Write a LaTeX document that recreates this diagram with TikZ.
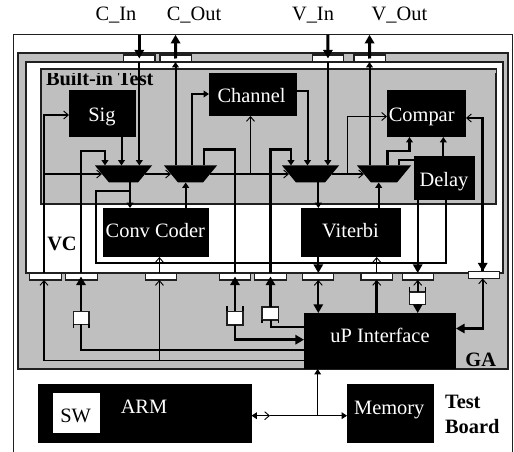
\documentclass[tikz,border=0pt]{standalone}
\usepackage{fontspec}
\setmainfont{Liberation Serif}
\usetikzlibrary{arrows.meta,calc}
\definecolor{panelgrey}{HTML}{BFBFBF}
\definecolor{edgeink}{HTML}{202020}
\tikzset{
  frame/.style={draw=edgeink,line width=.8pt,inner sep=0,outer sep=0},
  blackbox/.style={fill=black,draw=none,inner sep=0,outer sep=0},
  whitebox/.style={fill=white,draw=edgeink,line width=.8pt,inner sep=0,outer sep=0},
  lbl/.style={inner sep=0,outer sep=0,text height=10pt,text depth=0pt,font=\fontsize{15.3}{17}\selectfont},
  lblw/.style={lbl,text=white},
  lblb/.style={lbl,font=\fontsize{15.3}{17}\selectfont\bfseries},
  hw/.style={line width=2.2pt,black},
  mw/.style={line width=1.5pt,black},
  tw/.style={line width=.8pt,black},
  ft/.tip={Triangle[length=6.5pt,width=7pt]},
  fs/.tip={Triangle[length=4pt,width=5pt]},
  ot/.tip={Straight Barb[length=3.5pt,width=6pt,line width=.7pt]},
}
% name, x0, y0, x1, y1, style
\newcommand{\blk}[6]{\node[#6,minimum width={(#4-(#2))*0.75pt},minimum height={(#5-(#3))*0.75pt}] (#1) at ({(#2+#4)/2},{(#3+#5)/2}) {};}
\newcommand{\muxshape}[1]{\fill[black] (#1.north west) -- (#1.north east) -- ($(#1.south east)+(-14,0)$) -- ($(#1.south west)+(14,0)$) -- cycle;}
\newcommand{\padbox}[3]{\blk{#1}{#2-15.7}{#3}{#2+15.7}{#3+7}{whitebox}}
\begin{document}
\begin{tikzpicture}[x=.75pt,y=-.75pt]
\useasboundingbox (0,0) rectangle (514,452);
\fill[white] (0,0) rectangle (514,452);
% panels
\blk{board}{14}{35}{512}{452}{}
\draw[edgeink,line width=.9pt] (board.south west) -- (board.north west) -- (board.north east) -- (board.south east);
\blk{ga}{18}{53}{508}{369}{frame,fill=panelgrey}
\blk{vc}{26}{62}{503}{273}{frame,fill=white}
\blk{bit}{41}{69}{496}{204}{frame,fill=panelgrey}
\node[lblb,anchor=west] (bittext) at (46,79) {Built-in Test};
\fill[panelgrey] ($(bit.north west)+(1,1)$) rectangle (bit.north east |- 0,73.5);
% blocks
\blk{sig}{69}{90}{136}{137}{blackbox}
\blk{channel}{209}{73.5}{297}{116}{blackbox}
\blk{compar}{387}{90}{466}{137}{blackbox}
\blk{delay}{414}{156}{475}{200}{blackbox}
\blk{conv}{103}{208}{209}{257}{blackbox}
\blk{viterbi}{301}{208}{401}{257}{blackbox}
\blk{up}{304}{313}{456}{369}{blackbox}
\blk{arm}{38}{384}{251.5}{443}{blackbox}
\blk{sw}{52.5}{393}{100}{433}{fill=white,inner sep=0,outer sep=0}
\blk{mem}{347}{384}{434}{443}{blackbox}
% muxes
\blk{m1}{95}{165.5}{152}{182.5}{inner sep=0,outer sep=0}
\blk{m2}{164}{165.5}{217}{182.5}{inner sep=0,outer sep=0}
\blk{m3}{282}{165.5}{339}{182.5}{inner sep=0,outer sep=0}
\blk{m4}{357}{165.5}{411}{182.5}{inner sep=0,outer sep=0}
\muxshape{m1}\muxshape{m2}\muxshape{m3}\muxshape{m4}
% pads
\padbox{pci}{139.3}{55}
\padbox{pco}{175.7}{55}
\padbox{pvi}{328}{55}
\padbox{pvo}{369.7}{55}
\padbox{pa}{45.5}{273}
\padbox{pb}{81.5}{273}
\padbox{pc}{161.2}{273}
\padbox{pd}{235.2}{273}
\padbox{pe}{270.5}{273}
\padbox{pf}{318.2}{273}
\padbox{pg}{376.7}{273}
\padbox{ph}{418}{273}
\padbox{pi}{484.2}{271.5}
% small boxes
\blk{ba}{73.5}{311.5}{89}{324.5}{whitebox}
\blk{bb}{227}{311.5}{243}{325}{whitebox}
\blk{bc}{262}{307}{278.5}{320}{whitebox}
\blk{bd}{409.5}{292}{425.5}{304.5}{whitebox}
\draw[tw] (ba.south west) -- +(0,3.5) (ba.south east) -- +(0,3.5);
\draw[tw] (bb.north west) -- +(0,-5) (bb.north east) -- +(0,-5);
\draw[tw] (bc.south west) -- +(0,3.5) (bc.south east) -- +(0,3.5);
\draw[tw] (bd.north west) -- +(0,-5) (bd.north east) -- +(0,-5);
% wire x positions and bend levels
\coordinate (xCi) at (139.3,0);
\coordinate (xCo) at (175.5,0);
\coordinate (xCh) at (192,0);
\coordinate (xSg) at (121.5,0);
\coordinate (xT) at (44,0);
\coordinate (xB) at (81,0);
\coordinate (xB2) at (105,0);
\coordinate (xCh2) at (250.5,0);
\coordinate (xD2) at (204,0);
\coordinate (xD) at (235,0);
\coordinate (xE) at (270.5,0);
\coordinate (xE2) at (291,0);
\coordinate (xCh3) at (307.5,0);
\coordinate (xVi) at (327.8,0);
\coordinate (xVo) at (369.5,0);
\coordinate (xCp) at (347.7,0);
\coordinate (xM4a) at (387.3,0);
\coordinate (xM4b) at (409.5,0);
\coordinate (xM4c) at (399,0);
\coordinate (xDc) at (443.3,0);
\coordinate (xH) at (417.7,0);
\coordinate (xDd) at (445.7,0);
\coordinate (xI) at (482.7,0);
\coordinate (xLp) at (95.7,0);
\coordinate (xM1) at (130,0);
\coordinate (xM2) at (185.7,0);
\coordinate (xM3) at (318.3,0);
\coordinate (xVt) at (378.7,0);
\coordinate (xPg) at (376.7,0);
\coordinate (xC) at (159.4,0);
\coordinate (xAr) at (317.7,0);
\coordinate (xOt) at (270,0);
\coordinate (y151) at (0,151);
\coordinate (y149) at (0,149.5);
\coordinate (y160) at (0,160.5);
\coordinate (y115) at (0,115);
\coordinate (y116) at (0,116.5);
\coordinate (y118) at (0,118);
\coordinate (y94) at (0,94);
\coordinate (y91) at (0,91.5);
\coordinate (y262) at (0,262.7);
\coordinate (y191) at (0,191);
\coordinate (y326) at (0,326.7);
\coordinate (y339) at (0,339.7);
\coordinate (y350) at (0,350);
\coordinate (y361) at (0,360.7);
\coordinate (y328) at (0,328.5);
\coordinate (y416) at (0,415.7);
% top pins
\draw[hw,-ft] (xCi |- board.north) -- (pci.center);
\draw[hw,-ft] (pco.center) -- (xCo |- board.north);
\draw[hw,-ft] (xVi |- board.north) -- (pvi.center);
\draw[hw,-ft] (pvo.center) -- (xVo |- board.north);
\draw[mw,-fs] (xCi |- pci.south) -- (xCi |- m1.north);
\draw[mw,-fs] (xVi |- pvi.south) -- (xVi |- m3.north);
\draw[mw,-fs] (xCo |- m2.north) -- (xCo |- pco.south);
\draw[mw,-fs] (xVo |- m4.north) -- (xVo |- pvo.south);
% test lines
\draw[tw,-ot] (xT |- pa.north) |- (y115 -| sig.west);
\draw[tw,-ot] (xT |- m1.west) -- ($(m1.west)+(7,0)$);
\draw[tw,-ot] ($(m1.east)+(-7,0)$) -- ($(m2.west)+(7,0)$);
\draw[tw,-ot] ($(m2.east)+(-7,0)$) -- ($(m3.west)+(7,0)$);
\draw[tw,-ot] ($(m3.east)+(-7,0)$) -- ($(m4.west)+(7,0)$);
\draw[tw,-ot] (xCh2 |- m2.east) -- (xCh2 |- channel.south);
\draw[tw,-ot] (xCp |- m3.east) |- (y116 -| compar.west);
% into and out of muxes
\draw[mw,-fs] (xSg |- sig.south) -- (xSg |- m1.north);
\draw[hw,-fs] (xB |- pb.north) |- (y151 -| xB2) -- (xB2 |- m1.north);
\draw[hw,-fs] (xCh |- m2.north) |- (y94 -| channel.west);
\draw[hw] (xD |- pd.north) |- (y149 -| xD2) -- (xD2 |- m2.north);
\draw[hw,-fs] (xE |- pe.north) |- (y149 -| xE2) -- (xE2 |- m3.north);
\draw[mw,-fs] (y91 -| channel.east) -| (xCh3 |- m3.north);
\draw[hw,-fs] (xM4a |- m4.north) |- (y151 -| xM4b) -- (xM4b |- compar.south);
\draw[mw] (xM4c |- m4.north) |- (y160 -| delay.west);
\draw[mw,-fs] (xDc |- delay.north) -- (xDc |- compar.south);
\draw[hw,-ot] (xI |- pi.north) |- (y118 -| compar.east);
\draw[hw,-ft] (y118 -| xI) -- (xI |- pi.north);
\draw[mw,-ft] (xH |- delay.south) -- (xH |- ph.north);
\draw[mw] (xDd |- delay.south) |- (y262 -| xLp) |- (y191 -| xM1);
\draw[mw,-fs] (xM1 |- m1.south) -- (xM1 |- conv.north);
\draw[mw,-fs] (xM2 |- conv.north) -- (xM2 |- m2.south);
\draw[mw,-fs] (xM3 |- m3.south) -- (xM3 |- viterbi.north);
\draw[mw,-fs] (xVt |- viterbi.north) -- (xVt |- m4.south);
\draw[mw,-ft] (xM3 |- viterbi.south) -- (xM3 |- pf.north);
\draw[tw,-ot] (xPg |- pg.north) -- (xPg |- viterbi.south);
\draw[tw,-ot] (xC |- pc.north) -- (xC |- conv.south);
% below the core
\draw[tw,-ot] (y361 -| up.west) -| (xT |- pa.south);
\draw[tw,-ot] (xC |- y361) -- (xC |- pc.south);
\draw[hw] (y350 -| up.west) -| (xB |- ba.south);
\draw[hw,-ft] (xB |- ba.north) -- (xB |- pb.center);
\draw[hw,-ft] (xD |- bb.south) |- (y339 -| up.west);
\draw[hw,-ft] (xD |- bb.north) -- (xD |- pd.center);
\draw[mw] (y326 -| up.west) -| (xE |- bc.south);
\draw[hw,-ft] (xE |- bc.north) -- (xE |- pe.center);
\draw[mw,ot-ft] (xM3 |- pf.south) -- (xM3 |- up.north);
\draw[hw,-ot] (xPg |- up.north) -- (xPg |- pg.south);
\draw[mw,-ot] (xH |- bd.north) -- (xH |- ph.south);
\draw[mw,-ft] (xH |- bd.south) -- (xH |- up.north);
\draw[mw,ot-ft] (xI |- pi.south) |- (y328 -| up.east);
% board bus
\coordinate (mid) at (xOt |- y416);
\draw[tw,fs-ot] (y416 -| arm.east) -- (mid);
\draw[tw,-fs] (mid) -- (y416 -| mem.west);
\draw[tw,-fs] (xAr |- y416) -- (xAr |- up.south);
% labels
\node[lbl] (cin) at (116,13.7) {C\_In};
\node[lbl] (cout) at (194,13.7) {C\_Out};
\node[lbl] (vin) at (313,13.7) {V\_In};
\node[lbl] (vout) at (399.5,13.7) {V\_Out};
\node[lblw] (tsig) at (102,115) {Sig};
\node[lblw] (tchan) at (251.6,96) {Channel};
\node[lblw] (tcomp) at (421.7,115) {Compar};
\node[lblw] (tdelay) at (444,180) {Delay};
\node[lblw] (tconv) at (155.3,230.7) {Conv Coder};
\node[lblw] (tvit) at (350.5,230.7) {Viterbi};
\node[lblw] (tup) at (380,336) {uP Interface};
\node[lblw] (tarm) at (144,407) {ARM};
\node[lbl] (tsw) at (75.7,415.7) {SW};
\node[lblw] (tmem) at (389.3,407.7) {Memory};
\node[lblb] (tvc) at (62,243.8) {VC};
\node[lblb] (tga) at (480.7,359.7) {GA};
\node[lblb,anchor=west] (ttest) at (445,402) {Test};
\node[lblb,anchor=west] (tboard) at (445,427) {Board};
\end{tikzpicture}
\end{document}
